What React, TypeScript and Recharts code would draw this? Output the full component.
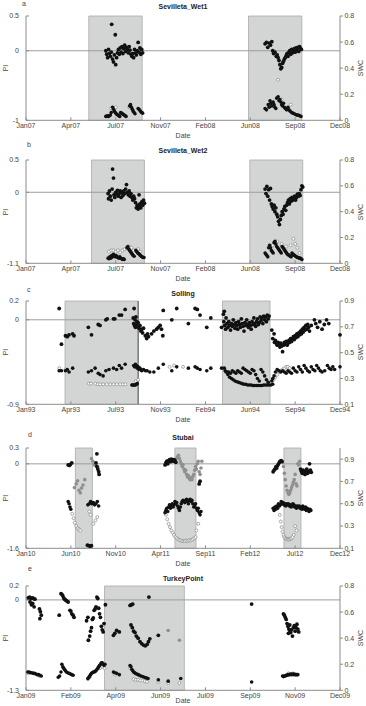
import React from "react"
import { ScatterChart, Scatter, XAxis, YAxis, ReferenceArea, ReferenceLine } from "recharts"

type Pt = [number, number]

// x values are positions on the 8-tick date axis (0 = first label, 7 = last)
const wet1Months = ["Jan07", "Apr07", "Jul07", "Nov07", "Feb08", "Jun08", "Sep08", "Dec08"]
const wet2Months = ["Jan07", "Apr07", "Jul07", "Nov07", "Feb08", "Jun08", "Sep08", "Dec08"]
const sollingMonths = ["Jan93", "Apr93", "Jul93", "Nov93", "Feb94", "Jun94", "Sep94", "Dec94"]
const stubaiMonths = ["Jan10", "Jun10", "Nov10", "Apr11", "Sep11", "Feb12", "Jul12", "Dec12"]
const turkeyMonths = ["Jan09", "Feb09", "Apr09", "Jun09", "Jul09", "Sep09", "Nov09", "Dec09"]

// shaded periods
const wet1Wet: Pt[] = [[1.4, 2.59], [4.96, 6.15]]
const wet2Wet: Pt[] = [[1.46, 2.64], [4.99, 6.17]]
const sollingWet: Pt[] = [[0.87, 2.5], [4.38, 5.44]]
const stubaiWet: Pt[] = [[1.1, 1.48], [3.32, 3.79], [5.75, 6.13]]
const turkeyWet: Pt[] = [[1.75, 3.53]]

// ---- Sevilleta_Wet1
const wet1Pi: Pt[] = [
  [1.78, 0.0], [1.8, -0.05], [1.82, -0.1], [1.84, 0.02], [1.86, -0.04], [1.88, -0.08], [1.9, -0.02], [1.91, 0.38],
  [1.93, -0.12], [1.95, -0.16], [1.97, -0.06], [1.99, 0.23], [2.0, -0.2], [2.02, -0.1], [2.04, -0.03], [2.06, 0.02],
  [2.08, -0.05], [2.1, 0.04], [2.12, -0.02], [2.14, 0.06], [2.16, -0.04], [2.18, 0.03], [2.2, 0.08], [2.22, -0.01],
  [2.24, 0.05], [2.26, 0.02], [2.28, -0.03], [2.3, 0.06], [2.32, 0.01], [2.34, -0.05], [2.36, -0.08], [2.38, -0.04],
  [2.4, -0.1], [2.42, 0.02], [2.44, -0.03], [2.46, -0.06], [2.48, 0.0], [2.5, 0.12], [2.52, -0.02], [2.54, 0.04],
  [2.56, -0.05], [2.58, 0.02], [2.6, -0.03],
  [5.33, 0.1], [5.36, 0.12], [5.39, 0.05], [5.42, 0.11], [5.45, 0.08], [5.48, 0.13], [5.5, 0.0], [5.52, -0.04],
  [5.55, -0.02], [5.58, -0.08], [5.6, -0.06], [5.62, -0.1], [5.64, -0.14], [5.66, -0.2], [5.68, -0.26], [5.7, -0.24],
  [5.72, -0.18], [5.74, -0.15], [5.76, -0.12], [5.78, -0.1], [5.8, -0.07], [5.82, -0.04], [5.84, -0.08], [5.86, -0.02],
  [5.88, 0.0], [5.9, -0.05], [5.92, 0.02], [5.94, -0.03], [5.96, 0.0], [5.98, 0.03], [6.0, -0.02], [6.02, 0.04],
  [6.04, 0.01], [6.06, 0.05], [6.08, -0.01], [6.1, 0.06], [6.12, 0.03], [6.14, 0.02],
]
const wet1Swc: Pt[] = [
  [1.78, 0.03], [1.8, 0.03], [1.82, 0.035], [1.84, 0.03], [1.86, 0.035], [1.88, 0.04], [1.9, 0.06], [1.93, 0.1],
  [1.95, 0.085], [1.97, 0.07], [1.99, 0.06], [2.01, 0.05], [2.03, 0.045], [2.05, 0.04], [2.07, 0.035], [2.09, 0.03],
  [2.11, 0.06], [2.13, 0.055], [2.15, 0.05], [2.17, 0.045], [2.19, 0.04], [2.21, 0.035], [2.23, 0.03], [2.31, 0.11],
  [2.33, 0.12], [2.35, 0.1], [2.37, 0.085], [2.39, 0.07], [2.41, 0.06], [2.43, 0.05], [2.5, 0.09], [2.52, 0.085],
  [2.54, 0.075], [2.56, 0.065], [2.58, 0.06], [2.6, 0.055],
  [5.33, 0.09], [5.36, 0.08], [5.4, 0.12], [5.42, 0.1], [5.44, 0.15], [5.46, 0.13], [5.48, 0.11], [5.51, 0.14],
  [5.53, 0.12], [5.55, 0.1], [5.57, 0.09], [5.59, 0.17], [5.62, 0.18], [5.64, 0.15], [5.66, 0.16], [5.68, 0.14],
  [5.7, 0.12], [5.72, 0.11], [5.74, 0.13], [5.76, 0.1], [5.78, 0.09], [5.81, 0.08], [5.84, 0.1], [5.86, 0.08],
  [5.89, 0.07], [5.92, 0.06], [5.95, 0.055], [5.98, 0.05], [6.01, 0.045], [6.04, 0.04], [6.07, 0.04], [6.1, 0.035],
  [6.13, 0.03],
]
const wet1SwcRing: Pt[] = [[1.9, 0.09], [2.0, 0.1], [2.3, 0.1], [5.62, 0.31], [5.7, 0.16], [5.9, 0.12]]

// ---- Sevilleta_Wet2
const wet2Pi: Pt[] = [
  [1.83, -0.02], [1.84, -0.1], [1.86, 0.02], [1.88, -0.06], [1.9, -0.12], [1.92, 0.05], [1.93, 0.36], [1.95, 0.22],
  [1.96, -0.04], [1.98, -0.08], [2.0, 0.0], [2.02, -0.03], [2.04, 0.03], [2.06, -0.06], [2.08, -0.02], [2.1, 0.02],
  [2.12, -0.08], [2.14, 0.0], [2.16, -0.05], [2.18, 0.02], [2.2, -0.02], [2.22, 0.05], [2.24, 0.12], [2.26, 0.0],
  [2.28, -0.04], [2.3, 0.02], [2.32, -0.06], [2.34, -0.02], [2.36, -0.08], [2.38, -0.12], [2.4, -0.06], [2.42, -0.1],
  [2.44, -0.16], [2.46, -0.24], [2.48, -0.2], [2.5, -0.26], [2.52, -0.22], [2.54, -0.18], [2.56, -0.24], [2.58, -0.15],
  [2.6, -0.2], [2.62, -0.12], [2.64, -0.17], [2.52, -0.04],
  [5.33, 0.05], [5.35, -0.02], [5.37, 0.09], [5.39, -0.06], [5.41, 0.04], [5.43, -0.12], [5.45, 0.06], [5.47, -0.18],
  [5.49, -0.22], [5.51, -0.26], [5.53, -0.2], [5.55, -0.3], [5.57, -0.24], [5.59, -0.34], [5.61, -0.38], [5.63, -0.45],
  [5.65, -0.5], [5.67, -0.42], [5.69, -0.36], [5.71, -0.3], [5.73, -0.34], [5.75, -0.26], [5.77, -0.22], [5.79, -0.28],
  [5.81, -0.2], [5.83, -0.16], [5.85, -0.12], [5.87, -0.18], [5.89, -0.1], [5.91, -0.14], [5.93, -0.08], [5.95, -0.12],
  [5.97, -0.1], [5.99, -0.06], [6.01, -0.12], [6.03, -0.08], [6.05, -0.03], [6.07, -0.06], [6.09, -0.02], [6.11, -0.05],
  [6.13, 0.04], [6.15, 0.1], [6.17, 0.08],
]
const wet2Swc: Pt[] = [
  [1.83, 0.04], [1.85, 0.035], [1.87, 0.05], [1.89, 0.04], [1.91, 0.06], [1.93, 0.05], [1.95, 0.07], [1.97, 0.06],
  [1.99, 0.05], [2.01, 0.06], [2.03, 0.05], [2.05, 0.045], [2.07, 0.04], [2.09, 0.05], [2.11, 0.04], [2.13, 0.035],
  [2.15, 0.03], [2.17, 0.035], [2.19, 0.03], [2.25, 0.12], [2.27, 0.13], [2.29, 0.11], [2.31, 0.1], [2.33, 0.09],
  [2.35, 0.08], [2.37, 0.07], [2.39, 0.06], [2.41, 0.055], [2.45, 0.1], [2.47, 0.09], [2.49, 0.08], [2.51, 0.075],
  [2.53, 0.07], [2.55, 0.06], [2.57, 0.055], [2.59, 0.05], [2.61, 0.045], [2.63, 0.045],
  [5.33, 0.08], [5.35, 0.07], [5.37, 0.06], [5.39, 0.05], [5.41, 0.12], [5.43, 0.14], [5.45, 0.12], [5.47, 0.1],
  [5.49, 0.09], [5.51, 0.08], [5.53, 0.16], [5.55, 0.17], [5.57, 0.15], [5.59, 0.13], [5.61, 0.12], [5.63, 0.11],
  [5.65, 0.1], [5.67, 0.09], [5.69, 0.08], [5.71, 0.13], [5.73, 0.12], [5.75, 0.11], [5.77, 0.1], [5.79, 0.09],
  [5.81, 0.08], [5.83, 0.07], [5.85, 0.065], [5.87, 0.06], [5.89, 0.055], [5.91, 0.05], [5.93, 0.08], [5.95, 0.07],
  [5.97, 0.065], [5.99, 0.06], [6.01, 0.055], [6.03, 0.05], [6.05, 0.045], [6.07, 0.045], [6.09, 0.04], [6.11, 0.04],
  [6.13, 0.035], [6.15, 0.03],
]
const wet2SwcRing: Pt[] = [
  [1.85, 0.09], [1.9, 0.1], [1.95, 0.1], [2.0, 0.09], [2.05, 0.1], [2.1, 0.085], [2.15, 0.1], [2.2, 0.11],
  [2.3, 0.13], [2.35, 0.12], [2.4, 0.1], [2.5, 0.11], [2.55, 0.09],
  [5.5, 0.14], [5.6, 0.17], [5.7, 0.15], [5.8, 0.13], [5.9, 0.14], [5.96, 0.19], [6.0, 0.15], [6.05, 0.12], [6.1, 0.08],
]

// ---- Solling
const sollingPi: Pt[] = [
  [0.74, 0.12], [0.79, -0.26], [0.88, -0.17], [0.92, -0.18], [0.96, -0.16], [1.04, -0.15], [1.07, -0.17], [1.39, -0.08],
  [1.46, -0.16], [1.61, -0.05], [1.65, -0.06], [1.78, 0.0], [1.81, 0.01], [1.95, 0.01], [1.98, 0.01], [2.08, 0.05],
  [2.13, 0.05], [2.21, 0.11], [2.39, 0.02], [2.4, -0.04], [2.41, 0.12], [2.42, -0.06], [2.43, 0.0], [2.44, -0.08],
  [2.45, 0.03], [2.46, -0.05], [2.47, -0.02], [2.48, -0.07], [2.5, -0.03], [2.52, -0.09], [2.54, -0.06], [2.56, -0.12],
  [2.58, -0.1], [2.6, -0.14], [2.62, -0.09], [2.66, -0.17], [2.69, -0.2], [2.71, -0.15], [2.73, -0.18], [2.8, -0.15],
  [2.85, -0.12], [2.91, -0.1], [2.95, -0.08], [2.99, -0.06], [3.02, -0.1], [3.05, -0.17], [3.06, 0.1], [3.25, 0.0],
  [3.36, 0.12], [3.62, -0.04], [3.77, 0.12], [3.82, 0.11], [3.88, 0.05], [4.03, -0.08], [4.12, 0.02], [4.36, -0.08],
  [4.4, 0.06], [4.41, -0.02], [4.42, 0.09], [4.43, -0.06], [4.45, -0.1], [4.46, 0.02], [4.48, -0.04], [4.5, -0.08],
  [4.52, -0.02], [4.54, -0.06], [4.56, -0.11], [4.58, -0.04], [4.6, -0.07], [4.62, 0.0], [4.64, -0.05], [4.66, -0.09],
  [4.68, -0.03], [4.7, -0.06], [4.72, -0.1], [4.74, -0.02], [4.76, -0.05], [4.78, -0.08], [4.8, 0.01], [4.82, -0.04],
  [4.84, -0.07], [4.86, -0.12], [4.88, -0.03], [4.9, -0.06], [4.92, 0.0], [4.94, -0.05], [4.96, -0.08], [4.98, -0.03],
  [5.0, -0.06], [5.02, -0.1], [5.04, -0.02], [5.06, -0.05], [5.08, 0.02], [5.1, -0.04], [5.12, -0.07], [5.14, -0.02],
  [5.16, 0.01], [5.18, -0.05], [5.2, -0.03], [5.22, 0.03], [5.24, -0.01], [5.26, 0.02], [5.28, -0.04], [5.3, 0.04],
  [5.32, 0.0], [5.34, 0.03], [5.36, -0.02], [5.38, 0.05], [5.4, 0.01], [5.42, 0.04],
  [5.48, -0.11], [5.53, -0.15], [5.5, -0.2], [5.54, -0.24], [5.56, -0.22], [5.58, -0.25], [5.6, -0.27], [5.62, -0.24],
  [5.64, -0.26], [5.66, -0.29], [5.68, -0.25], [5.7, -0.28], [5.72, -0.34], [5.74, -0.27], [5.76, -0.24], [5.78, -0.26],
  [5.8, -0.23], [5.82, -0.27], [5.84, -0.25], [5.86, -0.22], [5.88, -0.24], [5.9, -0.2], [5.92, -0.23], [5.94, -0.2],
  [5.96, -0.18], [5.98, -0.21], [6.0, -0.17], [6.02, -0.19], [6.04, -0.15], [6.06, -0.18], [6.08, -0.14], [6.1, -0.16],
  [6.12, -0.12], [6.14, -0.15], [6.16, -0.1], [6.18, -0.13], [6.2, -0.08], [6.22, -0.11], [6.24, -0.06], [6.26, -0.1],
  [6.28, -0.05], [6.3, -0.08], [6.32, -0.12], [6.36, -0.06], [6.43, 0.0], [6.46, -0.04], [6.5, -0.08], [6.55, -0.02],
  [6.6, -0.1], [6.65, -0.05], [6.7, 0.0], [6.75, -0.04], [7.0, -0.16],
]
const sollingSwc: Pt[] = [
  [0.74, 0.36], [0.79, 0.36], [0.88, 0.36], [0.92, 0.37], [0.96, 0.35], [1.04, 0.38], [1.39, 0.35], [1.46, 0.36],
  [1.54, 0.38], [1.61, 0.34], [1.65, 0.33], [1.72, 0.32], [1.78, 0.36], [1.85, 0.37], [1.95, 0.38], [2.02, 0.37],
  [2.08, 0.4], [2.13, 0.38], [2.21, 0.41],
  [2.36, 0.25], [2.38, 0.25], [2.4, 0.25], [2.42, 0.25], [2.44, 0.25], [2.46, 0.255], [2.48, 0.26],
  [2.4, 0.4], [2.42, 0.39], [2.44, 0.41], [2.46, 0.4], [2.48, 0.38], [2.5, 0.39], [2.52, 0.37], [2.54, 0.38],
  [2.56, 0.37], [2.58, 0.36], [2.62, 0.37], [2.66, 0.36], [2.7, 0.36], [2.76, 0.35], [2.85, 0.35], [2.95, 0.38],
  [3.06, 0.41], [3.25, 0.36], [3.36, 0.39], [3.62, 0.38], [3.77, 0.39], [3.82, 0.38], [3.88, 0.37], [4.03, 0.36],
  [4.12, 0.38], [4.36, 0.38],
  [4.42, 0.38], [4.46, 0.35], [4.5, 0.33], [4.54, 0.31], [4.58, 0.3], [4.62, 0.29], [4.66, 0.28], [4.7, 0.275],
  [4.74, 0.27], [4.78, 0.265], [4.82, 0.26], [4.86, 0.255], [4.9, 0.255], [4.94, 0.25], [4.98, 0.25], [5.02, 0.25],
  [5.06, 0.245], [5.1, 0.245], [5.14, 0.245], [5.18, 0.245], [5.22, 0.245], [5.26, 0.245], [5.3, 0.25], [5.34, 0.25],
  [5.38, 0.25], [5.42, 0.25], [5.46, 0.25], [5.5, 0.255],
  [4.44, 0.36], [4.48, 0.35], [4.52, 0.35], [4.56, 0.34], [4.6, 0.36], [4.64, 0.35], [4.68, 0.34], [4.72, 0.36],
  [4.76, 0.35], [4.8, 0.34], [4.84, 0.38], [4.88, 0.37], [4.92, 0.36], [4.96, 0.35], [5.0, 0.34], [5.04, 0.37],
  [5.08, 0.36], [5.12, 0.33], [5.16, 0.3], [5.2, 0.28], [5.24, 0.37], [5.28, 0.35], [5.32, 0.32], [5.36, 0.29],
  [5.4, 0.27],
  [5.48, 0.28], [5.5, 0.3], [5.53, 0.32], [5.56, 0.35], [5.6, 0.37], [5.64, 0.36], [5.68, 0.35], [5.72, 0.36],
  [5.76, 0.35], [5.8, 0.34], [5.84, 0.36], [5.88, 0.35], [5.92, 0.34], [5.96, 0.38], [6.0, 0.36], [6.04, 0.35],
  [6.08, 0.39], [6.12, 0.37], [6.16, 0.35], [6.2, 0.4], [6.24, 0.38], [6.28, 0.36], [6.32, 0.35], [6.36, 0.39],
  [6.4, 0.37], [6.44, 0.36], [6.48, 0.4], [6.52, 0.38], [6.56, 0.36], [6.6, 0.35], [6.66, 0.36], [6.72, 0.4],
  [6.76, 0.38], [6.8, 0.37], [6.84, 0.39], [6.88, 0.37], [7.0, 0.39],
]
const sollingSwcRing: Pt[] = [
  [0.74, 0.38], [0.88, 0.37], [1.4, 0.26], [1.45, 0.26], [1.55, 0.26], [1.6, 0.255], [1.65, 0.255], [1.72, 0.255],
  [1.8, 0.255], [1.88, 0.255], [1.95, 0.255], [2.02, 0.255], [2.1, 0.255], [2.16, 0.255], [2.22, 0.255], [2.45, 0.28],
  [2.5, 0.29], [2.55, 0.37], [3.2, 0.39], [3.3, 0.4], [3.5, 0.39],
  [5.52, 0.29], [5.56, 0.31], [5.6, 0.33], [5.64, 0.35], [5.68, 0.36], [5.72, 0.37], [5.76, 0.38], [5.8, 0.39],
  [5.84, 0.39], [5.88, 0.38],
]

// ---- Stubai
const stubaiPi: Pt[] = [
  [0.94, -0.02], [0.97, -0.03], [0.99, -0.01], [1.02, 0.02], [1.58, 0.19], [1.56, 0.02], [1.58, -0.05], [1.6, -0.1],
  [1.62, -0.15], [1.63, -0.2], [1.37, -1.54], [1.4, -1.55], [1.43, -1.56], [1.46, -1.55],
  [3.1, -0.02], [3.12, 0.02], [3.14, 0.05], [3.16, 0.0], [3.18, 0.06], [3.2, 0.08], [3.22, 0.04], [3.24, 0.09],
  [3.26, 0.07], [3.28, 0.05], [3.3, 0.08], [3.32, 0.06], [3.34, 0.03], [3.86, -0.38], [3.88, -0.33],
  [5.51, -0.15], [5.53, -0.12], [5.55, -0.1], [5.57, -0.06], [5.59, -0.08], [5.61, -0.03], [5.63, 0.0], [5.65, 0.03],
  [5.67, 0.05], [5.69, 0.06], [5.71, 0.04], [6.12, -0.1], [6.14, -0.14], [6.16, -0.18], [6.18, -0.12], [6.2, -0.16],
  [6.22, -0.2], [6.24, -0.14], [6.26, -0.1], [6.28, -0.18], [6.3, -0.15], [6.32, 0.0], [6.34, -0.12], [6.36, -0.16],
]
const stubaiPiGray: Pt[] = [
  [1.08, -0.45], [1.12, -0.38], [1.15, -0.32], [1.18, -0.5], [1.21, -0.55], [1.24, -0.46], [1.27, -0.4], [1.31, -0.3],
  [1.46, 0.1], [1.49, 0.05], [1.52, -0.02], [1.55, 0.0], [1.6, -0.06],
  [3.36, 0.1], [3.38, 0.14], [3.4, 0.16], [3.42, 0.1], [3.44, 0.05], [3.46, 0.0], [3.48, -0.05], [3.5, -0.02],
  [3.52, -0.1], [3.54, -0.15], [3.56, -0.12], [3.58, -0.2], [3.6, -0.25], [3.62, -0.22], [3.64, -0.28], [3.66, -0.3],
  [3.68, -0.26], [3.7, -0.3], [3.72, -0.24], [3.74, -0.2], [3.76, -0.12], [3.78, -0.05], [3.8, -0.1], [3.82, 0.0],
  [3.84, 0.05], [3.86, -0.15], [3.88, -0.2], [3.9, -0.08], [3.92, 0.05],
  [5.74, -0.05], [5.76, -0.18], [5.78, -0.3], [5.8, -0.42], [5.82, -0.5], [5.84, -0.55], [5.86, -0.58], [5.88, -0.55],
  [5.9, -0.5], [5.92, -0.45], [5.94, -0.4], [5.96, -0.35], [5.98, -0.3], [6.0, -0.2], [6.02, -0.38], [6.04, -0.42],
  [6.06, 0.0], [6.08, -0.02], [6.1, 0.05],
]
const stubaiSwc: Pt[] = [
  [0.94, 0.52], [0.96, 0.5], [0.98, 0.47], [1.0, 0.45], [1.38, 0.49], [1.41, 0.5], [1.44, 0.52], [1.47, 0.5],
  [1.5, 0.51], [1.53, 0.49], [1.56, 0.5], [1.59, 0.52], [1.62, 0.48],
  [3.1, 0.42], [3.12, 0.44], [3.14, 0.46], [3.16, 0.43], [3.18, 0.47], [3.2, 0.49], [3.22, 0.46], [3.24, 0.48],
  [3.26, 0.5], [3.28, 0.47], [3.3, 0.49], [3.32, 0.52], [3.34, 0.5], [3.36, 0.51], [3.38, 0.48], [3.4, 0.46],
  [3.42, 0.44], [3.44, 0.47], [3.46, 0.5], [3.48, 0.52], [3.5, 0.53], [3.52, 0.52], [3.54, 0.51], [3.56, 0.53],
  [3.58, 0.54], [3.6, 0.52], [3.62, 0.5], [3.64, 0.53], [3.66, 0.54], [3.68, 0.52], [3.7, 0.53], [3.72, 0.5],
  [3.74, 0.47], [3.76, 0.48], [3.78, 0.5], [3.8, 0.46], [3.82, 0.44], [3.84, 0.46], [3.86, 0.42], [3.88, 0.4],
  [3.9, 0.43],
  [5.51, 0.46], [5.53, 0.44], [5.55, 0.47], [5.57, 0.45], [5.59, 0.48], [5.61, 0.46], [5.63, 0.5], [5.65, 0.48],
  [5.67, 0.49], [5.69, 0.52], [5.71, 0.5], [5.73, 0.51], [5.75, 0.49], [5.77, 0.5], [5.79, 0.48], [5.81, 0.5],
  [5.83, 0.49], [5.85, 0.5], [5.87, 0.48], [5.89, 0.49], [5.91, 0.47], [5.93, 0.48], [5.95, 0.5], [5.97, 0.49],
  [5.99, 0.47], [6.01, 0.48], [6.03, 0.46], [6.05, 0.48], [6.07, 0.47], [6.09, 0.48], [6.11, 0.46], [6.13, 0.47],
  [6.15, 0.45], [6.17, 0.48], [6.19, 0.46], [6.21, 0.45], [6.23, 0.47], [6.25, 0.44], [6.27, 0.46], [6.29, 0.45],
  [6.31, 0.43], [6.33, 0.45], [6.35, 0.44],
]
const stubaiSwcRing: Pt[] = [
  [1.03, 0.41], [1.06, 0.37], [1.09, 0.33], [1.12, 0.3], [1.15, 0.28], [1.18, 0.27], [1.21, 0.26],
  [1.41, 0.43], [1.44, 0.4], [1.5, 0.32], [1.55, 0.35], [1.59, 0.38],
  [3.12, 0.4], [3.15, 0.36], [3.18, 0.32], [3.21, 0.29], [3.24, 0.26], [3.27, 0.24], [3.3, 0.22], [3.33, 0.2],
  [3.36, 0.19], [3.39, 0.18], [3.42, 0.175], [3.45, 0.17], [3.48, 0.165], [3.51, 0.165], [3.54, 0.165], [3.57, 0.17],
  [3.6, 0.165], [3.63, 0.17], [3.66, 0.17], [3.69, 0.175], [3.72, 0.18], [3.75, 0.19], [3.78, 0.2], [3.8, 0.26],
  [3.84, 0.32],
  [5.66, 0.4], [5.68, 0.34], [5.7, 0.29], [5.72, 0.25], [5.74, 0.22], [5.76, 0.2], [5.78, 0.19], [5.8, 0.185],
  [5.82, 0.18], [5.84, 0.18], [5.86, 0.18], [5.88, 0.18], [5.9, 0.185], [5.92, 0.19], [5.94, 0.2], [5.97, 0.22],
  [6.0, 0.3], [6.03, 0.26],
]

// ---- TurkeyPoint
const turkeyPi: Pt[] = [
  [0.05, 0.03], [0.08, 0.04], [0.11, 0.02], [0.14, 0.03], [0.17, 0.02], [0.2, 0.01], [0.09, -0.03], [0.12, -0.07],
  [0.15, -0.05], [0.18, -0.1], [0.3, -0.13], [0.32, -0.17], [0.34, -0.22], [0.31, -0.27],
  [0.74, -0.22], [0.78, 0.09], [0.8, 0.08], [0.82, 0.06], [0.84, 0.03], [0.86, 0.01], [0.88, 0.0], [0.9, -0.01],
  [0.92, -0.02], [0.94, -0.03], [0.98, -0.15], [1.0, -0.16], [1.02, -0.2], [1.05, -0.22], [1.07, -0.25],
  [1.39, -0.58], [1.42, -0.52], [1.44, -0.45], [1.46, -0.4], [1.48, -0.28], [1.5, -0.26], [1.52, -0.15], [1.54, -0.13],
  [1.56, -0.1], [1.58, 0.04], [1.6, 0.02], [1.62, -0.12], [1.64, -0.2], [1.66, -0.25], [1.68, -0.38], [1.7, -0.43],
  [1.72, -0.46], [1.74, -0.34], [1.77, -0.07], [1.35, -0.3], [1.38, -0.25],
  [1.95, -0.51], [1.98, -0.48], [2.02, -0.44], [2.08, -0.46], [2.32, -0.08], [2.35, -0.07], [2.38, -0.06], [2.34, -0.36],
  [2.37, -0.4], [2.4, -0.45], [2.43, -0.47], [2.46, -0.52], [2.5, -0.55], [2.54, -0.6], [2.58, -0.63], [2.62, -0.65],
  [2.66, -0.66], [2.7, -0.64], [2.73, -0.6], [2.76, -0.56], [2.74, 0.04], [2.95, -0.51],
  [5.03, -0.06],
  [5.74, -0.2], [5.76, -0.22], [5.78, -0.25], [5.8, -0.28], [5.82, -0.34], [5.84, -0.38], [5.86, -0.42], [5.88, -0.36],
  [5.9, -0.47], [5.92, -0.43], [5.94, -0.52], [5.96, -0.4], [5.98, -0.37], [6.0, -0.45], [6.02, -0.4], [6.04, -0.35],
  [6.06, -0.42], [6.08, -0.46], [5.85, -0.48], [5.88, -0.44],
]
const turkeyPiGray: Pt[] = [[3.17, -0.44], [3.42, -0.58]]
const turkeySwc: Pt[] = [
  [0.04, 0.14], [0.07, 0.14], [0.1, 0.135], [0.13, 0.135], [0.16, 0.13], [0.19, 0.13], [0.22, 0.125], [0.25, 0.12],
  [0.28, 0.12], [0.31, 0.115], [0.34, 0.11],
  [0.72, 0.1], [0.75, 0.11], [0.78, 0.14], [0.8, 0.2], [0.82, 0.18], [0.84, 0.17], [0.86, 0.16], [0.88, 0.15],
  [0.9, 0.14], [0.93, 0.135], [0.96, 0.13], [0.99, 0.125], [1.02, 0.12], [1.05, 0.115],
  [1.38, 0.09], [1.4, 0.1], [1.42, 0.11], [1.44, 0.12], [1.46, 0.13], [1.48, 0.135], [1.5, 0.14], [1.52, 0.14],
  [1.54, 0.145], [1.56, 0.15], [1.58, 0.16], [1.6, 0.17], [1.62, 0.18], [1.64, 0.19], [1.66, 0.2], [1.68, 0.21],
  [1.7, 0.21], [1.72, 0.2], [1.74, 0.19], [1.76, 0.2],
  [1.95, 0.14], [1.98, 0.135], [2.02, 0.13], [2.08, 0.12], [2.32, 0.19], [2.34, 0.18], [2.36, 0.16], [2.38, 0.15],
  [2.4, 0.14], [2.42, 0.135], [2.44, 0.13], [2.47, 0.125], [2.5, 0.12], [2.53, 0.115], [2.56, 0.11], [2.6, 0.105],
  [2.64, 0.1], [2.68, 0.095], [2.72, 0.09], [2.95, 0.08], [3.17, 0.07], [3.45, 0.09],
  [5.03, 0.064],
  [5.72, 0.11], [5.74, 0.105], [5.76, 0.11], [5.78, 0.11], [5.8, 0.115], [5.82, 0.115], [5.84, 0.12], [5.86, 0.12],
  [5.88, 0.12], [5.9, 0.125], [5.92, 0.12], [5.94, 0.125], [5.96, 0.12], [5.98, 0.125], [6.0, 0.12], [6.02, 0.12],
  [6.04, 0.12], [6.06, 0.12],
]
const turkeySwcRing: Pt[] = [
  [0.05, 0.13], [0.3, 0.11], [1.38, 0.085], [1.42, 0.1], [1.65, 0.17], [1.7, 0.18], [1.75, 0.17], [1.98, 0.12],
  [2.32, 0.17], [2.4, 0.085], [2.45, 0.08], [2.5, 0.08], [2.55, 0.075], [2.6, 0.075], [2.65, 0.07], [2.7, 0.065],
  [2.95, 0.065], [3.17, 0.055], [3.42, 0.055], [5.85, 0.13], [5.95, 0.13],
]

const TICK_IDX = [0, 1, 2, 3, 4, 5, 6, 7]
const FONT = "'Liberation Sans', Arial, sans-serif"
const AXIS = "#8c8c8c"
const TEXT = "#444"
const PAD_TOP = 4
const AXIS_H = 22

const panels = [
  {
    letter: "a", title: "Sevilleta_Wet1", months: wet1Months, plotTop: 15.7, plotBottom: 120,
    letterPos: [22, 4], titleY: 7, dateY: 136,
    piDomain: [-1, 0.5], piTicks: [-1, 0, 0.5], swcDomain: [0, 0.8], swcTicks: [0, 0.2, 0.4, 0.6, 0.8],
    wet: wet1Wet, edges: [] as number[], pi: wet1Pi, piGray: [] as Pt[], swc: wet1Swc, ring: wet1SwcRing,
  },
  {
    letter: "b", title: "Sevilleta_Wet2", months: wet2Months, plotTop: 160, plotBottom: 263.3,
    letterPos: [27, 145], titleY: 151, dateY: 279,
    piDomain: [-1.1, 0.5], piTicks: [-1.1, 0, 0.5], swcDomain: [0, 0.8], swcTicks: [0, 0.2, 0.4, 0.6, 0.8],
    wet: wet2Wet, edges: [] as number[], pi: wet2Pi, piGray: [] as Pt[], swc: wet2Swc, ring: wet2SwcRing,
  },
  {
    letter: "c", title: "Solling", months: sollingMonths, plotTop: 300.7, plotBottom: 404,
    letterPos: [27, 290], titleY: 293.5, dateY: 420,
    piDomain: [-0.9, 0.2], piTicks: [-0.9, 0, 0.2], swcDomain: [0.1, 0.9], swcTicks: [0.1, 0.3, 0.5, 0.7, 0.9],
    wet: sollingWet, edges: [2.5], pi: sollingPi, piGray: [] as Pt[], swc: sollingSwc, ring: sollingSwcRing,
  },
  {
    letter: "d", title: "Stubai", months: stubaiMonths, plotTop: 447.7, plotBottom: 548,
    letterPos: [28, 435], titleY: 437.5, dateY: 564,
    piDomain: [-1.6, 0.3], piTicks: [-1.6, 0, 0.3], swcDomain: [0.1, 1.0], swcTicks: [0.1, 0.3, 0.5, 0.7, 0.9],
    wet: stubaiWet, edges: [] as number[], pi: stubaiPi, piGray: stubaiPiGray, swc: stubaiSwc, ring: stubaiSwcRing,
  },
  {
    letter: "e", title: "TurkeyPoint", months: turkeyMonths, plotTop: 585.7, plotBottom: 690,
    letterPos: [28, 569], titleY: 579.3, dateY: 700.5,
    piDomain: [-1.3, 0.2], piTicks: [-1.3, 0, 0.2], swcDomain: [0, 0.8], swcTicks: [0, 0.2, 0.4, 0.6, 0.8],
    wet: turkeyWet, edges: [] as number[], pi: turkeyPi, piGray: turkeyPiGray, swc: turkeySwc, ring: turkeySwcRing,
  },
]

type PanelCfg = (typeof panels)[number]

const toPoints = (a: Pt[]) => a.map(([x, y]) => ({ x, y }))

const dot = (fill: string, r: number) => (props: any) =>
  props.cx == null ? <g /> : <circle cx={props.cx} cy={props.cy} r={r} fill={fill} />

const ring = (stroke: string) => (props: any) =>
  props.cx == null ? <g /> : (
    <circle cx={props.cx} cy={props.cy} r={1.5} fill="#fff" stroke={stroke} strokeWidth={0.7} />
  )

const fmtTick = (v: number) => String(v)

function Panel({ p }: { p: PanelCfg }) {
  const plotH = p.plotBottom - p.plotTop
  const height = PAD_TOP + plotH + AXIS_H
  const midY = p.plotTop + plotH / 2
  const small = { fontSize: 7, fill: TEXT }

  return (
    <>
      <div style={{ position: "absolute", left: p.letterPos[0], top: p.letterPos[1] - 5, fontSize: 7, color: TEXT, lineHeight: "10px" }}>
        {p.letter}
      </div>
      <div style={{ position: "absolute", left: 26, width: 314, top: p.titleY - 5, textAlign: "center", fontSize: 7, fontWeight: "bold", color: "#222", lineHeight: "10px" }}>
        {p.title}
      </div>
      <div style={{ position: "absolute", left: 1, top: midY - 5, width: 10, textAlign: "center", fontSize: 7, color: TEXT, lineHeight: "10px", transform: "rotate(-90deg)" }}>
        PI
      </div>
      <div style={{ position: "absolute", left: 346, top: midY - 5, width: 30, textAlign: "center", fontSize: 7, color: TEXT, lineHeight: "10px", transform: "rotate(-90deg)" }}>
        SWC
      </div>
      <div style={{ position: "absolute", left: 26, width: 314, top: p.dateY - 4, textAlign: "center", fontSize: 7, color: TEXT, lineHeight: "8px" }}>
        Date
      </div>
      <div style={{ position: "absolute", left: 0, top: p.plotTop - PAD_TOP }}>
        <ScatterChart width={366} height={height} margin={{ top: PAD_TOP, right: 6, bottom: 0, left: 6 }}>
          <XAxis
            xAxisId="b" type="number" dataKey="x" domain={[0, 7]} ticks={TICK_IDX} interval={0}
            tickFormatter={(v: number) => p.months[v] ?? ""} height={AXIS_H}
            stroke={AXIS} tickSize={-3} tickMargin={6} tick={small}
          />
          <XAxis
            xAxisId="t" orientation="top" type="number" dataKey="x" domain={[0, 7]} ticks={TICK_IDX}
            height={0} stroke={AXIS} tickSize={-3} tick={false}
          />
          <YAxis
            yAxisId="pi" type="number" dataKey="y" domain={p.piDomain} ticks={p.piTicks} interval={0}
            allowDataOverflow width={20} stroke={AXIS} tickSize={-3} tickMargin={10} tick={small}
            tickFormatter={fmtTick}
          />
          <YAxis
            yAxisId="swc" orientation="right" type="number" dataKey="y" domain={p.swcDomain} ticks={p.swcTicks}
            interval={0} allowDataOverflow width={20} stroke={AXIS} tickSize={3} tickMargin={1.5} tick={small}
            tickFormatter={fmtTick}
          />
          {p.wet.map(([a, b], i) => (
            <ReferenceArea
              key={"w" + i} xAxisId="b" yAxisId="pi" x1={a} x2={b}
              fill="#d3d5d5" fillOpacity={1} stroke="#a9abab" strokeWidth={0.8}
            />
          ))}
          {p.edges.map((e, i) => (
            <ReferenceLine key={"e" + i} xAxisId="b" yAxisId="pi" x={e} stroke="#555" strokeWidth={1} />
          ))}
          <ReferenceLine xAxisId="b" yAxisId="pi" y={0} stroke="#9d9d9d" strokeWidth={1} />
          <Scatter xAxisId="b" yAxisId="swc" data={toPoints(p.ring)} shape={ring("#8a8a8a")} isAnimationActive={false} />
          <Scatter xAxisId="b" yAxisId="pi" data={toPoints(p.piGray)} shape={dot("#8f8f8f", 1.8)} isAnimationActive={false} />
          <Scatter xAxisId="b" yAxisId="swc" data={toPoints(p.swc)} shape={dot("#111", 1.8)} isAnimationActive={false} />
          <Scatter xAxisId="b" yAxisId="pi" data={toPoints(p.pi)} shape={dot("#111", 1.9)} isAnimationActive={false} />
        </ScatterChart>
      </div>
    </>
  )
}

export default function App() {
  return (
    <div style={{ position: "absolute", left: 0, top: 0, width: 366, height: 706, background: "#fff", fontFamily: FONT }}>
      {panels.map((p) => (
        <Panel key={p.letter} p={p} />
      ))}
    </div>
  )
}
